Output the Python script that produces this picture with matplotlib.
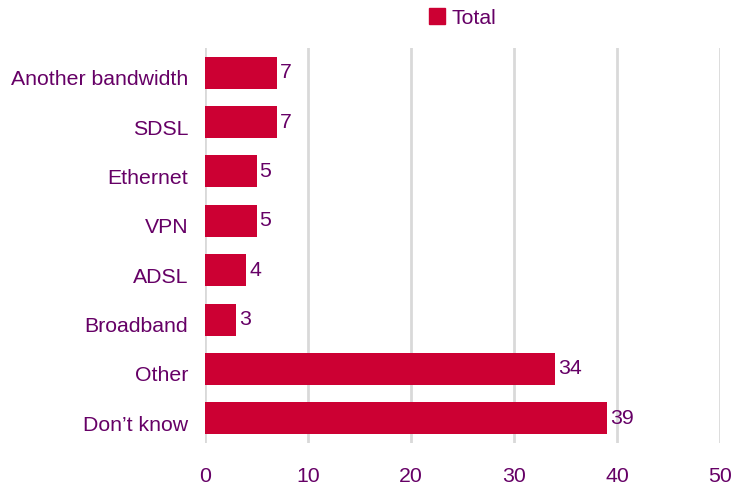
import matplotlib.pyplot as plt
from matplotlib.patches import Patch
from matplotlib.transforms import ScaledTranslation

plt.rcParams['font.family'] = ['Liberation Sans', 'DejaVu Sans']

categories = ['Another bandwidth', 'SDSL', 'Ethernet', 'VPN', 'ADSL',
              'Broadband', 'Other', 'Don\u2019t know']
totals = [7, 7, 5, 5, 4, 3, 34, 39]

bar_color = '#cc0033'
text_color = '#660066'
fs = 15.3

fig = plt.figure(figsize=(7.34, 4.87), dpi=100)
ax = fig.add_axes([0.2793, 1 - 443 / 487, 0.7017, (443 - 48) / 487])

y = range(len(categories))
ax.barh(y, totals, height=0.65, color=bar_color, zorder=3)
for yi, v in zip(y, totals):
    ax.text(v + 0.3, yi, str(v), va='center', ha='left',
            fontsize=fs, color=text_color)

ax.set_xlim(0, 50)
ax.set_ylim(len(categories) - 0.5, -0.5)
ax.set_xticks(range(0, 51, 10))
ax.set_yticks(list(y))
ax.set_yticklabels(categories)
ax.tick_params(length=0, labelsize=fs, labelcolor=text_color)
ax.tick_params(axis='x', pad=17)
ax.tick_params(axis='y', pad=12)
shift = ScaledTranslation(0, -5 / 100, fig.dpi_scale_trans)
for lbl in ax.get_yticklabels():
    lbl.set_transform(lbl.get_transform() + shift)
ax.xaxis.grid(True, color='#d9d9d9', linewidth=2, zorder=0)
for s in ax.spines.values():
    s.set_visible(False)

fig.legend(handles=[Patch(color=bar_color, label='Total')],
           loc='center', bbox_to_anchor=(0.63, 0.963), frameon=False,
           fontsize=fs, labelcolor=text_color, handlelength=0.75,
           handleheight=0.75, handletextpad=0.3)

fig.savefig('out.png', dpi=100)
